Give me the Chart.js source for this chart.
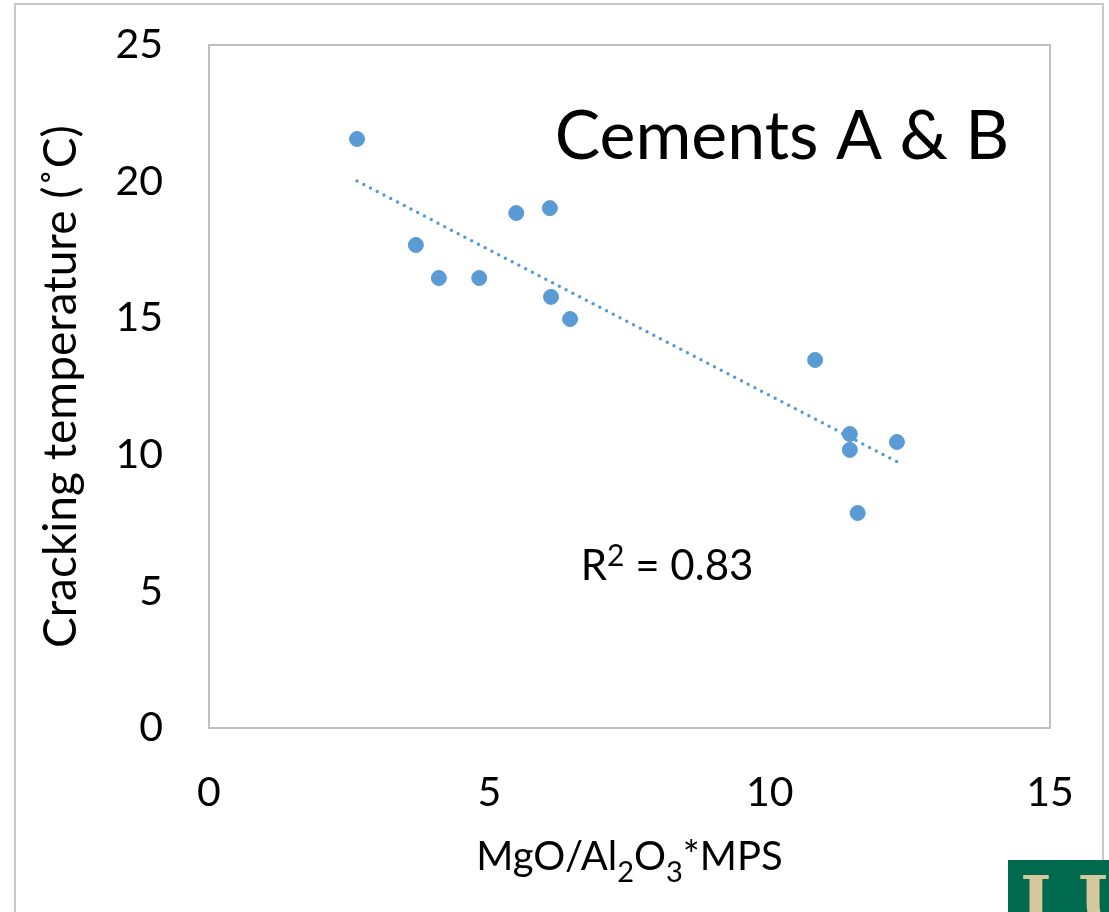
<!DOCTYPE html>
<html>
<head>
<meta charset="utf-8">
<title>Cements A &amp; B</title>
<script src="https://cdn.jsdelivr.net/npm/chart.js@4.4.1/dist/chart.umd.min.js"></script>
<style>
  html, body { margin: 0; padding: 0; background: #fff; }
  #wrap { position: relative; width: 1109px; height: 912px; overflow: hidden; }
  #frame {
    position: absolute; left: 14px; top: 3px; width: 1090px; height: 1000px;
    border: 2px solid #c8c8c8; box-sizing: border-box;
  }
  #chart { position: absolute; left: 0; top: 0; }
  #logo {
    position: absolute; left: 1008px; top: 860px; width: 101px; height: 52px;
    background: #006a4e; overflow: hidden;
  }
  #logo span {
    position: absolute; top: 6px; font-family: "DejaVu Serif", serif; font-weight: bold;
    font-size: 68px; line-height: 68px; color: #d5c99b;
  }
</style>
</head>
<body>
<div id="wrap">
  <div id="frame"></div>
  <canvas id="chart" width="1109" height="912"></canvas>
  <div id="logo"><span style="left:12px">I</span><span style="left:70px">U</span></div>
</div>
<script>
// MgO/Al2O3*MPS vs cracking temperature, cements A and B
const mpsIndex = [2.64, 3.69, 4.10, 4.82, 5.48, 6.08, 6.10, 6.44, 10.81, 11.43, 11.43, 12.27, 11.57];
const crackTemp = [21.56, 17.68, 16.47, 16.47, 18.85, 19.03, 15.78, 14.97, 13.47, 10.76, 10.18, 10.47, 7.87];
const xTicks = [0, 5, 10, 15];
const yTicks = [0, 5, 10, 15, 20, 25];

const FONT = "Lato";
const BLUE = "#5b9bd5";

// least squares trendline
const n = mpsIndex.length;
const mx = mpsIndex.reduce((s, v) => s + v, 0) / n;
const my = crackTemp.reduce((s, v) => s + v, 0) / n;
let sxy = 0, sxx = 0, syy = 0;
for (let i = 0; i < n; i++) {
  sxy += (mpsIndex[i] - mx) * (crackTemp[i] - my);
  sxx += (mpsIndex[i] - mx) ** 2;
  syy += (crackTemp[i] - my) ** 2;
}
const slope = sxy / sxx;
const icpt = my - slope * mx;
const r2 = (sxy * sxy) / (sxx * syy);
const xMin = Math.min(...mpsIndex), xMax = Math.max(...mpsIndex);

const points = mpsIndex.map((x, i) => ({ x: x, y: crackTemp[i] }));
const trend = [xMin, xMax].map(x => ({ x: x, y: icpt + slope * x }));

// draws runs of text where [text, shift] shift is 0 normal, 1 subscript, -1 superscript
function drawRuns(ctx, parts, cx, baseline, size) {
  const fontFor = s => (s ? Math.round(size * 0.72) : size) + "px " + FONT;
  let total = 0;
  parts.forEach(p => { ctx.font = fontFor(p[1]); total += ctx.measureText(p[0]).width; });
  let px = cx - total / 2;
  ctx.textAlign = "left";
  parts.forEach(p => {
    ctx.font = fontFor(p[1]);
    const dy = p[1] === 1 ? size * 0.3 : p[1] === -1 ? -size * 0.33 : 0;
    ctx.fillText(p[0], px, baseline + dy);
    px += ctx.measureText(p[0]).width;
  });
}

const extras = {
  id: "extras",
  beforeDatasetsDraw(chart) {
    const { ctx, chartArea: a } = chart;
    ctx.save();
    ctx.strokeStyle = "#bfbfbf";
    ctx.lineWidth = 2;
    ctx.strokeRect(a.left, a.top, a.right - a.left, a.bottom - a.top);
    ctx.restore();
  },
  afterDraw(chart) {
    const { ctx, chartArea: a, scales: { x, y } } = chart;
    ctx.save();
    ctx.fillStyle = "#000";
    ctx.textBaseline = "alphabetic";

    // big label inside the plot
    ctx.font = "68px " + FONT;
    ctx.textAlign = "center";
    ctx.fillText("Cements A & B", 782, 159);

    // R² label
    drawRuns(ctx, [["R", 0], ["2", -1], [" = " + r2.toFixed(2), 0]],
      x.getPixelForValue(8.17), y.getPixelForValue(5.93) + 14, 42);

    // x axis title
    drawRuns(ctx, [["MgO/Al", 0], ["2", 1], ["O", 0], ["3", 1], ["*MPS", 0]],
      (a.left + a.right) / 2, 870, 40);
    ctx.restore();
  }
};

// invisible tick marks push the labels away from the plot edge
const hiddenTicks = len => ({
  display: true,
  drawOnChartArea: false,
  drawTicks: true,
  tickLength: len,
  color: "rgba(0,0,0,0)"
});

new Chart(document.getElementById("chart").getContext("2d"), {
  type: "scatter",
  data: {
    datasets: [
      {
        label: "Cracking temperature",
        data: points,
        backgroundColor: BLUE,
        borderColor: BLUE,
        pointRadius: 7.5,
        pointHoverRadius: 7.5,
        order: 1
      },
      {
        label: "Linear trend",
        type: "line",
        data: trend,
        borderColor: BLUE,
        borderWidth: 3.5,
        borderDash: [0, 7.6],
        borderCapStyle: "round",
        pointRadius: 0,
        fill: false,
        order: 2
      }
    ]
  },
  options: {
    responsive: false,
    animation: false,
    layout: { padding: { top: 45, right: 59, left: 0, bottom: 0 } },
    plugins: {
      legend: { display: false },
      tooltip: { enabled: false }
    },
    scales: {
      x: {
        type: "linear",
        min: 0,
        max: 15,
        afterBuildTicks: s => { s.ticks = xTicks.map(v => ({ value: v })); },
        afterFit: s => { s.height = 184; },
        grid: hiddenTicks(40),
        border: { display: false },
        ticks: { color: "#000", padding: 0, font: { family: FONT, size: 41 } }
      },
      y: {
        type: "linear",
        min: 0,
        max: 25,
        afterBuildTicks: s => { s.ticks = yTicks.map(v => ({ value: v })); },
        afterFit: s => { s.width = 209; },
        grid: hiddenTicks(46),
        border: { display: false },
        ticks: { color: "#000", padding: 0, font: { family: FONT, size: 41 } },
        title: {
          display: true,
          text: "Cracking temperature (˚C)",
          color: "#000",
          padding: { top: 34, bottom: 0 },
          font: { family: FONT, size: 46 }
        }
      }
    }
  },
  plugins: [extras]
});
</script>
</body>
</html>
